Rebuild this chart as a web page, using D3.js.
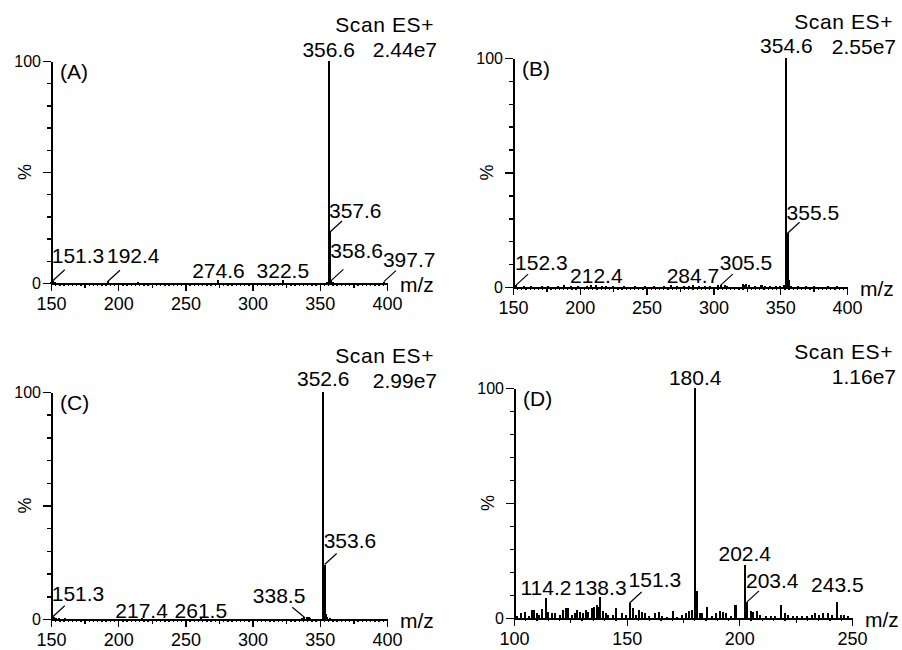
<!DOCTYPE html>
<html>
<head>
<meta charset="utf-8">
<script src="https://cdn.jsdelivr.net/npm/d3@7"></script>
<style>
body { margin: 0; background: #fff; }
svg text { font-family: "Liberation Sans", Arial, sans-serif; fill: #000; }
</style>
</head>
<body>
<svg id="chart" width="902" height="650"></svg>
<script>
// values
var panelTags = ["(A)", "(B)", "(C)", "(D)"];
var ticLabels = ["2.44e7", "2.55e7", "2.99e7", "1.16e7"];
var xDomains = [[150, 400], [150, 400], [150, 400], [100, 250]];
var xTicksWide = [150, 200, 250, 300, 350, 400];
var xTicksNarrow = [100, 150, 200, 250];
var yTickLabels = [0, 100];

// labelled peaks [m/z, %]
var peaksA = [[356.6, 100], [357.6, 23], [358.6, 1.2], [151.3, 1], [192.4, 0.8], [274.6, 1.2], [322.5, 1.2], [397.7, 0.6]];
var peaksB = [[354.6, 100], [355.5, 23.5], [152.3, 0.8], [212.4, 0.8], [284.7, 0.8], [305.5, 0.8]];
var peaksC = [[352.6, 100], [353.6, 24], [151.3, 1], [217.4, 0.4], [261.5, 0.4], [338.5, 0.8]];
var peaksD = [[180.4, 100], [202.4, 23], [203.4, 7], [114.2, 8.7], [138.3, 9], [151.3, 6.5], [243.5, 7]];

// unlabelled peaks [m/z, %]
var noiseA = [[150.3, 0.6], [153.2, 0.4], [214.5, 0.5], [355.6, 0.6], [359.6, 0.3]];
var noiseB = [[356.5, 3], [158.4, 0.5], [163.2, 0.4], [171.5, 0.6], [176.3, 0.4], [183.4, 0.5], [188.2, 0.7], [193.5, 0.4],
  [198.6, 0.6], [205.3, 0.5], [208.4, 0.7], [216.5, 0.6], [219.3, 0.5], [224.6, 0.4], [233.2, 0.5], [241.4, 0.4],
  [248.6, 0.5], [255.3, 0.4], [262.7, 0.6], [268.4, 0.7], [272.5, 0.5], [278.3, 0.6], [281.6, 0.5], [289.4, 0.6],
  [293.5, 0.5], [297.6, 0.4], [303.4, 0.7], [308.6, 0.9], [310.5, 0.6], [322.4, 1.2], [323.5, 1.0], [324.6, 1.1],
  [326.5, 0.8], [331.4, 0.5], [335.5, 0.7], [336.6, 0.8], [338.5, 0.6], [342.3, 0.5], [346.5, 0.4], [349.6, 0.5],
  [352.5, 0.7], [358.4, 0.5], [363.5, 0.4], [369.6, 0.3], [375.4, 0.4], [385.6, 0.4], [392.5, 0.3]];
var noiseC = [[354.6, 2.2], [152.3, 0.8], [153.4, 0.5], [156.2, 0.4], [160.5, 0.3], [336.4, 0.5], [340.5, 0.9],
  [341.6, 0.7], [342.5, 0.6], [355.6, 0.7], [357.4, 0.4]];
var noiseD = [[181.4, 11.8], [182.4, 2], [101.2, 1], [103, 2], [104.9, 2.5], [106.5, 1], [108, 3.5], [109, 3.5], [110, 2],
  [111, 1.5], [112.3, 4], [115, 2.5], [116.7, 2], [118.2, 2], [120.4, 1.5], [121.9, 3.5], [123, 4.5], [124, 4.5],
  [125.6, 1.5], [127, 2], [128, 3.5], [129.3, 2.5], [130.6, 2], [132, 3.5], [133, 2.5], [134.5, 4.5], [135.6, 5],
  [136.7, 5.5], [137.4, 5], [139.6, 3], [140.9, 2], [141.8, 1.5], [144, 1.5], [145.3, 4.5], [147.8, 2], [149.7, 1.5],
  [153, 4.5], [154.2, 1.5], [155.5, 3.5], [156.7, 2.5], [158.2, 2], [160, 1], [162.6, 2], [164.4, 2.5], [165.6, 1],
  [167.8, 0.5], [170.4, 3], [172.4, 0.5], [174.4, 1.5], [176.2, 2], [177.7, 3], [178.9, 3.5], [183.3, 2], [185.8, 4.7],
  [187.7, 1], [189.7, 2], [191.4, 3], [192.6, 2.5], [194.1, 2], [196.2, 1], [198.1, 5.5], [198.6, 5.5], [205.1, 3],
  [206.2, 2.5], [207.8, 3], [209.2, 1.5], [211.9, 1], [213.9, 1], [215.8, 1], [218.5, 5.5], [220.3, 2], [221.8, 1.5],
  [224, 1], [225.5, 1], [227.7, 0.8], [229.9, 1], [232.1, 1.5], [233.6, 2], [235.5, 1.5], [237.3, 2], [239.5, 2],
  [241, 1.5], [245, 1.5], [246.5, 1.5], [248.4, 1]];

// where each panel sits on the page
var frames = [
  { x0: 51, x1: 387, yTop: 61, y0: 283, right: 437, ticks: xTicksWide, minor: 25 / 8, peaks: peaksA, noise: noiseA },
  { x0: 513, x1: 847, yTop: 58, y0: 287, right: 896, ticks: xTicksWide, minor: 25 / 8, peaks: peaksB, noise: noiseB },
  { x0: 51, x1: 387, yTop: 392, y0: 619, right: 437, ticks: xTicksWide, minor: 25 / 8, peaks: peaksC, noise: noiseC },
  { x0: 514, x1: 852, yTop: 388, y0: 618, right: 896, ticks: xTicksNarrow, minor: 5, peaks: peaksD, noise: noiseD }
];

// how each peak label is placed: c = centred on top, r = leader up-right, l = leader up-left; number = lift in px
var labelLayout = [
  { "356.6": ["c", 4], "357.6": ["r", 14], "358.6": ["r", 22], "397.7": ["r", 15], "151.3": ["r", 18], "192.4": ["r", 18], "274.6": ["c", 2], "322.5": ["c", 2] },
  { "354.6": ["c", 5], "355.5": ["r", 13], "152.3": ["r", 15], "305.5": ["r", 15], "212.4": ["c", 2], "284.7": ["c", 2] },
  { "352.6": ["c", 6], "353.6": ["r", 17], "151.3": ["r", 16], "217.4": ["c", 0], "261.5": ["c", 0], "338.5": ["l", 14] },
  { "180.4": ["c", 3], "202.4": ["c", 4], "243.5": ["c", 10], "114.2": ["c", 3], "138.3": ["c", 2], "151.3": ["r", 16], "203.4": ["r", 14] }
];

var svg = d3.select("#chart");

frames.forEach(function (f, i) {
  var x = d3.scaleLinear().domain(xDomains[i]).range([f.x0, f.x1]);
  var y = d3.scaleLinear().domain([0, 100]).range([f.y0, f.yTop]);
  var g = svg.append("g");

  // x axis: minor, medium and labelled ticks
  var dom = xDomains[i];
  var minorTicks = d3.range(dom[0], dom[1] + 0.01, f.minor);
  var midTicks = d3.range(dom[0] + 25, dom[1], 50);

  var xMinor = g.append("g").attr("transform", "translate(0," + f.y0 + ")")
    .call(d3.axisBottom(x).tickValues(minorTicks).tickSize(3).tickSizeOuter(0).tickFormat(""));
  var xMid = g.append("g").attr("transform", "translate(0," + f.y0 + ")")
    .call(d3.axisBottom(x).tickValues(midTicks).tickSize(5).tickSizeOuter(0).tickFormat(""));
  var xMajor = g.append("g").attr("transform", "translate(0," + f.y0 + ")")
    .call(d3.axisBottom(x).tickValues(f.ticks).tickSize(8).tickPadding(6).tickSizeOuter(0));
  [xMinor, xMid, xMajor].forEach(function (a) {
    a.selectAll("line").attr("stroke", "#000").attr("stroke-width", 1.3).attr("shape-rendering", "crispEdges");
    a.select(".domain").attr("stroke", "#000").attr("stroke-width", 2).attr("shape-rendering", "crispEdges");
  });
  xMajor.selectAll("text").attr("font-size", 18).attr("fill", "#000");

  // y axis
  var yAx = g.append("g").attr("transform", "translate(" + f.x0 + ",0)")
    .call(d3.axisLeft(y).tickValues(d3.range(0, 101, 10)).tickSize(4).tickPadding(4).tickSizeOuter(0)
      .tickFormat(function (d) { return yTickLabels.indexOf(d) >= 0 ? d : ""; }));
  yAx.selectAll(".tick line")
    .attr("x2", function (d) { return d % 50 === 0 ? -8 : -4; })
    .attr("stroke", "#000").attr("stroke-width", 1.5).attr("shape-rendering", "crispEdges");
  yAx.selectAll(".tick text").attr("x", -10).attr("font-size", 16).attr("fill", "#000");
  yAx.select(".domain").attr("stroke", "#000").attr("stroke-width", 2).attr("shape-rendering", "crispEdges");
  yAx.attr("font-family", null);
  xMajor.attr("font-family", null);

  // peaks
  var all = f.noise.concat(f.peaks);
  g.append("g").selectAll("line").data(all).enter().append("line")
    .attr("x1", function (d) { return Math.round(x(d[0])); })
    .attr("x2", function (d) { return Math.round(x(d[0])); })
    .attr("y1", y(0))
    .attr("y2", function (d) { return y(d[1]); })
    .attr("stroke", "#000").attr("stroke-width", 2).attr("shape-rendering", "crispEdges");

  // peak labels
  var lay = labelLayout[i];
  f.peaks.forEach(function (p) {
    var key = p[0].toFixed(1);
    var l = lay[key] || ["c", 3];
    var px = x(p[0]), py = y(p[1]);
    var t = g.append("text").attr("font-size", 21).text(key);
    if (l[0] === "c") {
      t.attr("x", px).attr("y", py - l[1]).attr("text-anchor", "middle");
    } else if (l[0] === "r") {
      g.append("line").attr("x1", px).attr("y1", py).attr("x2", px + 12).attr("y2", py - 11)
        .attr("stroke", "#000").attr("stroke-width", 1.2);
      t.attr("x", px - 1).attr("y", py - l[1]);
    } else {
      g.append("line").attr("x1", px).attr("y1", py).attr("x2", px - 12).attr("y2", py - 10)
        .attr("stroke", "#000").attr("stroke-width", 1.2);
      t.attr("x", px + 1).attr("y", py - l[1]).attr("text-anchor", "end");
    }
  });

  // header, tags, axis titles
  g.append("text").attr("x", f.right - 3).attr("y", f.yTop - 29).attr("text-anchor", "end")
    .attr("font-size", 21).attr("letter-spacing", 0.6).text("Scan ES+");
  g.append("text").attr("x", f.right).attr("y", f.yTop - 4).attr("text-anchor", "end")
    .attr("font-size", 21).text(ticLabels[i]);
  g.append("text").attr("x", f.x0 + 9).attr("y", f.yTop + 18).attr("font-size", 21).text(panelTags[i]);
  g.append("text").attr("x", f.x1 + 13).attr("y", f.y0 + 9).attr("font-size", 21).text("m/z");
  g.append("text").attr("transform", "translate(" + (f.x0 - 20) + "," + ((f.yTop + f.y0) / 2) + ") rotate(-90)")
    .attr("text-anchor", "middle").attr("font-size", 18).text("%");
});
</script>
</body>
</html>
